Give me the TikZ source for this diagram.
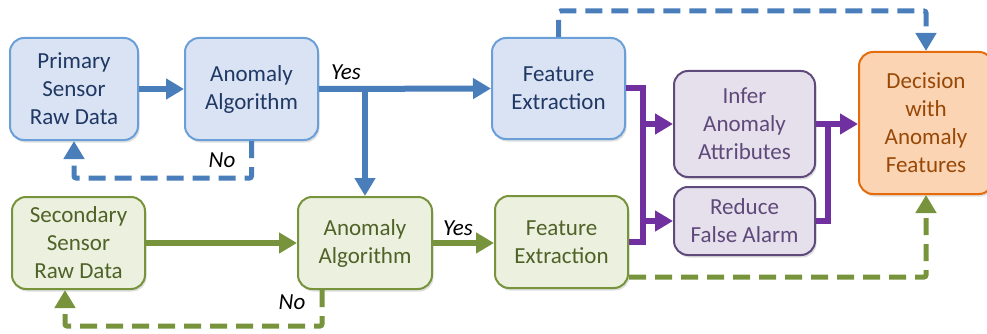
\documentclass[tikz,border=0pt]{standalone}
\usepackage{fontspec}
\setmainfont{Carlito}
\usetikzlibrary{arrows.meta,positioning,shadows}
\definecolor{bluefill}{HTML}{DAE3F3}
\definecolor{blueedge}{HTML}{6A9FD8}
\definecolor{bluetext}{HTML}{1F3864}
\definecolor{bluearrow}{HTML}{4A7EBB}
\definecolor{greenfill}{HTML}{EBF1DE}
\definecolor{greenedge}{HTML}{77933C}
\definecolor{greentext}{HTML}{4F6228}
\definecolor{purplefill}{HTML}{E5E0EC}
\definecolor{purpleedge}{HTML}{5F4B7B}
\definecolor{purpletext}{HTML}{5F497A}
\definecolor{purplearrow}{HTML}{7030A0}
\definecolor{orangefill}{HTML}{FBD4B4}
\definecolor{orangeedge}{HTML}{E46C0A}
\definecolor{orangetext}{HTML}{984806}

\begin{document}
\begin{tikzpicture}[x=1pt,y=-1pt,
  box/.style={draw,line width=2pt,rounded corners=14pt,align=center,inner sep=0pt,
    font=\fontsize{23}{28}\selectfont,
    drop shadow={opacity=0.25,shadow xshift=1.5pt,shadow yshift=-2.5pt}},
  bluebox/.style={box,fill=bluefill,draw=blueedge,text=bluetext},
  greenbox/.style={box,fill=greenfill,draw=greenedge,text=greentext},
  purplebox/.style={box,fill=purplefill,draw=purpleedge,text=purpletext},
  orangebox/.style={box,fill=orangefill,draw=orangeedge,text=orangetext},
  flow/.style={line width=6pt,-{Triangle[length=18pt,width=20pt]}},
  loop/.style={line width=5pt,dash pattern=on 17pt off 9pt,rounded corners=2pt,
    -{Triangle[length=18pt,width=20pt]}},
  bus/.style={line width=6pt,line join=miter},
  lbl/.style={font=\fontsize{23}{26}\selectfont\itshape}]
\useasboundingbox (0,0) rectangle (987,334);
\clip (0,0) rectangle (987,334);

\node[bluebox,minimum width=128pt,minimum height=102pt] (prim) at (74,89) {Primary\\Sensor\\Raw Data};
\node[bluebox,minimum width=133pt,minimum height=102pt] (anoA) at (251.5,89) {Anomaly\\Algorithm};
\node[bluebox,minimum width=133pt,minimum height=101pt] (featA) at (558.5,88.5) {Feature\\Extraction};
\node[greenbox,minimum width=133pt,minimum height=92pt] (sec) at (78.5,243) {Secondary\\Sensor\\Raw Data};
\node[greenbox,minimum width=134pt,minimum height=92pt] (anoB) at (365,243) {Anomaly\\Algorithm};
\node[greenbox,minimum width=133pt,minimum height=92pt] (featB) at (561.5,242) {Feature\\Extraction};
\node[purplebox,minimum width=141pt,minimum height=106pt] (infer) at (744.5,124) {Infer\\Anomaly\\Attributes};
\node[purplebox,minimum width=141pt,minimum height=68pt] (reduce) at (744.5,221) {Reduce\\False Alarm};
\node[orangebox,minimum width=134pt,minimum height=142pt] (dec) at (926,123) {Decision\\with\\Anomaly\\Features};

\coordinate (split) at (anoB.north |- anoA.east);
\coordinate (busL) at (643,0);
\coordinate (busR) at (828,0);

% primary branch
\draw[flow,bluearrow] (prim.east) -- (anoA.west);
\draw[flow,bluearrow] (anoA.east) -- (featA.west);
\draw[flow,bluearrow] (split) -- (anoB.north);
\draw[loop,bluearrow] (anoA.south) -- ++(0,37) -| (prim.south);
\draw[loop,bluearrow] (featA.north) -- ++(0,-26) -| (dec.north);

% secondary branch
\draw[flow,greenedge] (sec.east) -- (anoB.west);
\draw[flow,greenedge] (anoB.east) -- (anoB.east -| featB.west);
\draw[loop,greenedge] (anoB.south -| 322,0) -- ++(0,36) -| (sec.south -| 65,0);
\draw[loop,greenedge] (featB.east |- 0,277) -| (dec.south);

% fusion
\draw[bus,purplearrow] (featA.east) -| (busL |- featB.east) -- (featB.east);
\draw[flow,purplearrow] (busL |- infer.west) -- (infer.west);
\draw[flow,purplearrow] (busL |- reduce.west) -- (reduce.west);
\draw[bus,purplearrow] (reduce.east) -| (busR |- infer.east);
\draw[flow,purplearrow] (infer.east) -- (infer.east -| dec.west);

\node[lbl] (yesA) at (346,72) {Yes};
\node[lbl] (noA) at (222,160) {No};
\node[lbl] (yesB) at (458,228) {Yes};
\node[lbl] (noB) at (292,302) {No};
\end{tikzpicture}
\end{document}
